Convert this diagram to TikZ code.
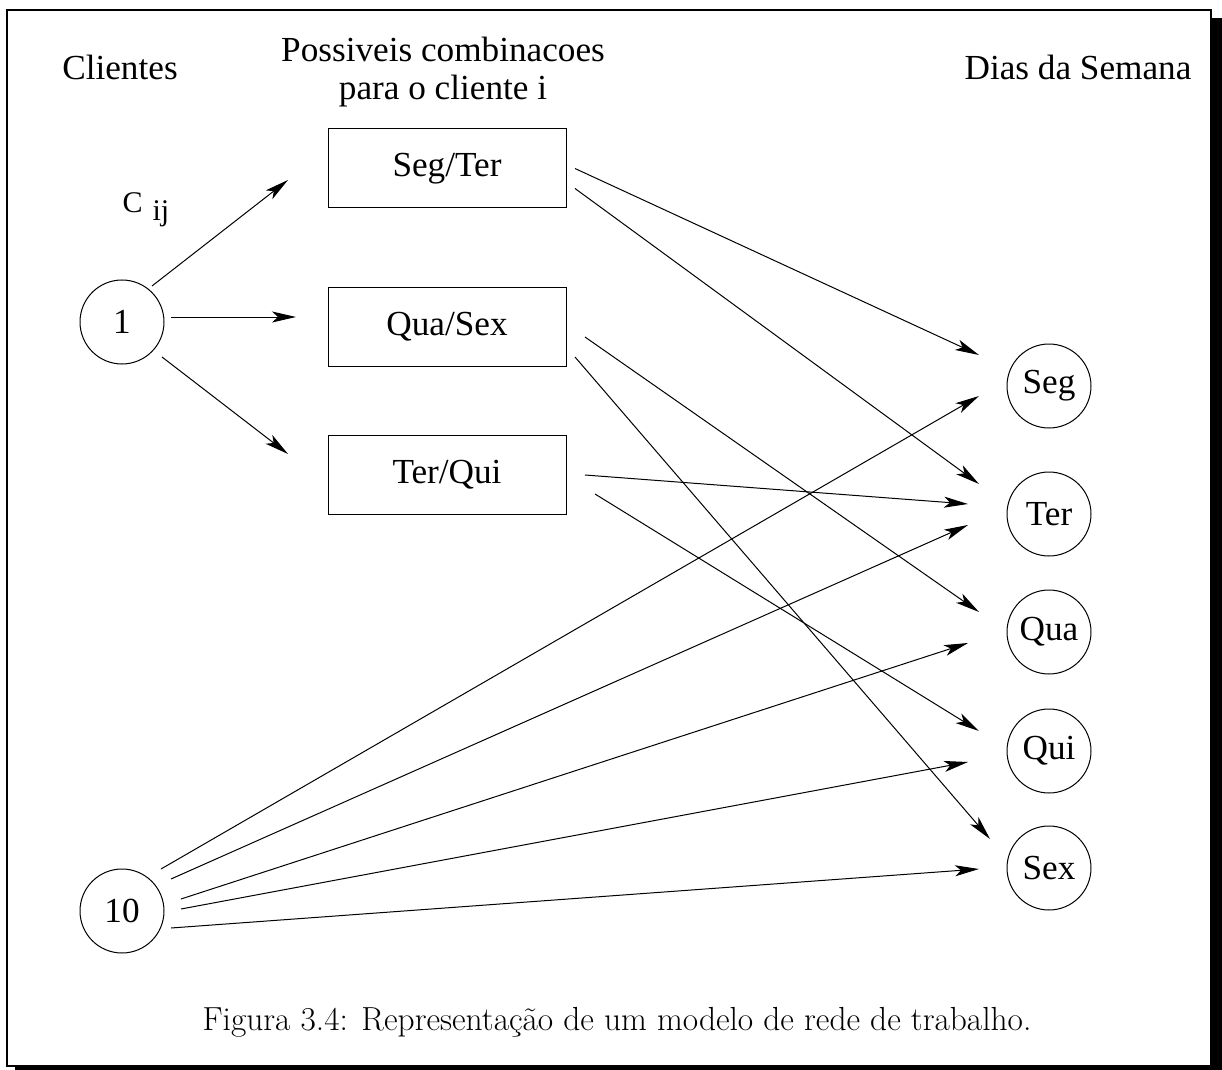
\documentclass[tikz,border=0pt]{standalone}
\usepackage{fontspec}
\newfontfamily\timesfont{Liberation Serif}
\usetikzlibrary{arrows.meta}

\begin{document}
\begin{tikzpicture}[x=0.5pt,y=-0.5pt,line width=0.5pt,
  every node/.style={font=\timesfont\fontsize{17.6}{19}\selectfont},
  day/.style={draw,circle,minimum size=42pt,inner sep=0pt},
  combo/.style={draw,minimum width=119pt,minimum height=39.5pt,inner sep=0pt},
  >={Stealth[length=12pt,width=5.5pt,inset=3pt]}]
  \useasboundingbox (0,0) rectangle (1222,1070);

  % moldura com sombra
  \fill (1211,18) rectangle (1222,1070);
  \fill (15,1066) rectangle (1222,1070);
  \draw[line width=1pt] (7,10) rectangle (1211,1066);

  \node[anchor=base] (cli) at (120,80) {Clientes};
  \node[anchor=base, align=center] (comb) at (443,100) {Possiveis combinacoes\\para o cliente i};
  \node[anchor=base] (dias) at (1078,80) {Dias da Semana};
  \node[anchor=base west, inner sep=0pt, font=\timesfont\fontsize{15}{17}\selectfont] (cij) at (122,213)
    {C\hspace{5pt}\raisebox{-4pt}{ij}};

  \node[day] (c1) at (122,322) {1};
  \node[day] (c10) at (122,911) {10};

  \node[combo] (st) at (447,168.5) {Seg/Ter};
  \node[combo] (qs) at (447,326.5) {Qua/Sex};
  \node[combo] (tq) at (447,474.5) {Ter/Qui};

  \node[day] (seg) at (1049,386) {Seg};
  \node[day] (ter) at (1049,514) {Ter};
  \node[day] (qua) at (1049,632) {Qua};
  \node[day] (qui) at (1049,751) {Qui};
  \node[day] (sex) at (1049,868) {Sex};

  \path[->]
    ([shift={(30,-36)}]c1.center) edge ([shift={(-159,11.5)}]st.center)
    ([shift={(49,-5)}]c1.center) edge ([shift={(-151,-9.5)}]qs.center)
    ([shift={(40,35)}]c1.center) edge ([shift={(-159,-20.5)}]tq.center)

    ([shift={(128,0)}]st.center) edge ([shift={(-70,-31)}]seg.center)
    ([shift={(128,20)}]st.center) edge ([shift={(-70,-30)}]ter.center)
    ([shift={(138,10.5)}]qs.center) edge ([shift={(-70,-20)}]qua.center)
    ([shift={(128,30.5)}]qs.center) edge ([shift={(-59,-29)}]sex.center)
    ([shift={(138,0.5)}]tq.center) edge ([shift={(-81,-10)}]ter.center)
    ([shift={(148,19.5)}]tq.center) edge ([shift={(-70,-20)}]qui.center)

    ([shift={(39,-42)}]c10.center) edge ([shift={(-70,10)}]seg.center)
    ([shift={(49,-32)}]c10.center) edge ([shift={(-81,11)}]ter.center)
    ([shift={(59,-12)}]c10.center) edge ([shift={(-81,11)}]qua.center)
    ([shift={(59,-2)}]c10.center) edge ([shift={(-81,11)}]qui.center)
    ([shift={(49,17)}]c10.center) edge ([shift={(-70,1)}]sex.center);

  \node[anchor=base, font=\rmfamily\fontsize{16.7}{19}\selectfont] (leg) at (617,1030)
    {Figura 3.4: Representação de um modelo de rede de trabalho.};
\end{tikzpicture}
\end{document}
